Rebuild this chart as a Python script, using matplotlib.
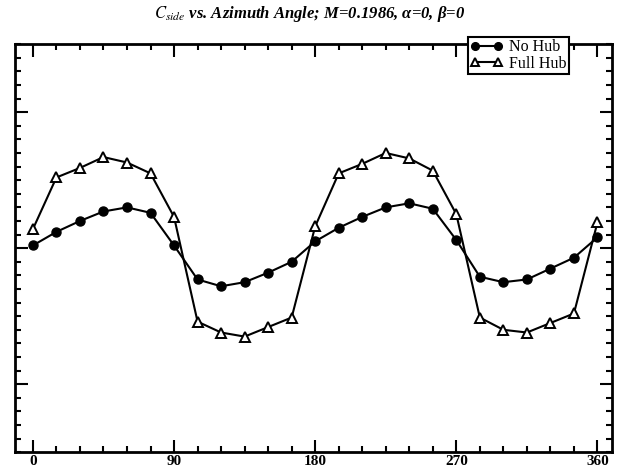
import matplotlib
matplotlib.use("Agg")
import matplotlib.pyplot as plt
from matplotlib.ticker import MultipleLocator

# dados (C_side em unidades de 0.001)
azimute = [0, 15, 30, 45, 60, 75, 90, 105, 120, 135, 150, 165, 180,
           195, 210, 225, 240, 255, 270, 285, 300, 315, 330, 345, 360]
sem_hub = [0.2, 1.2, 2.0, 2.7, 3.0, 2.6, 0.2, -2.3, -2.8, -2.5, -1.8, -1.0, 0.5,
           1.5, 2.3, 3.0, 3.3, 2.9, 0.6, -2.1, -2.5, -2.3, -1.5, -0.7, 0.8]
hub_completo = [1.4, 5.2, 5.9, 6.7, 6.3, 5.5, 2.3, -5.4, -6.2, -6.5, -5.8, -5.1, 1.6,
                5.5, 6.2, 7.0, 6.6, 5.7, 2.5, -5.1, -6.0, -6.2, -5.5, -4.8, 1.9]
ticks_x = [0, 90, 180, 270, 360]

plt.rcParams["font.family"] = ["Liberation Serif", "DejaVu Serif"]
plt.rcParams["mathtext.fontset"] = "stix"

fig = plt.figure(figsize=(6.19, 4.75), dpi=100)
ax = fig.add_axes([0.024, 0.048, 0.964, 0.859])

ax.plot(azimute, sem_hub, color="black", linewidth=1.5, marker="o",
        markersize=6.5, markerfacecolor="black", markeredgecolor="black",
        label="No Hub")
ax.plot(azimute, hub_completo, color="black", linewidth=1.5, marker="^",
        markersize=7.5, markerfacecolor="white", markeredgecolor="black",
        markeredgewidth=1.4, label="Full Hub")

ax.set_xlim(-11.5, 369)
ax.set_ylim(-15, 15)
ax.set_xticks(ticks_x)
ax.set_xticklabels([str(t) for t in ticks_x], fontweight="bold", fontsize=11)
ax.xaxis.set_minor_locator(MultipleLocator(15))
ax.yaxis.set_major_locator(MultipleLocator(10))
ax.yaxis.set_minor_locator(MultipleLocator(1))
ax.set_yticklabels([])

ax.tick_params(which="both", direction="in", top=True, right=True,
               width=1.5, pad=2)
ax.tick_params(which="major", length=9)
ax.tick_params(which="minor", length=4)
for lado in ax.spines.values():
    lado.set_linewidth(2)

leg = ax.legend(loc="upper right", bbox_to_anchor=(0.928, 1.018), numpoints=2,
                fontsize=11.5, frameon=True, fancybox=False,
                edgecolor="black", handlelength=2.0, borderpad=0.15,
                borderaxespad=0, labelspacing=0.05, handletextpad=0.4,
                markerscale=0.85)
leg.get_frame().set_linewidth(1.5)
leg.get_frame().set_alpha(1)

fig.text(0.5, 0.97, r"$C_{side}$ vs. Azimuth Angle; M=0.1986, α=0, β=0",
         ha="center", va="center", fontsize=12, fontstyle="italic",
         fontweight="bold")

fig.savefig("out.png", dpi=100)
